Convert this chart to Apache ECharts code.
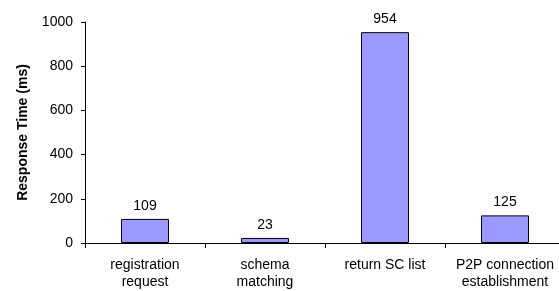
<!DOCTYPE html>
<html><head><meta charset="utf-8">
<script src="https://cdn.jsdelivr.net/npm/echarts@6/dist/echarts.min.js"></script>
<style>html,body{margin:0;padding:0;background:#fff;overflow:hidden}#c{width:566px;height:291px}</style>
</head><body><div id="c"></div>
<script>
const categories = ['registration\nrequest', 'schema\nmatching', 'return SC list', 'P2P connection\nestablishment'];
const values = [109, 23, 954, 125];
const yTicks = [0, 200, 400, 600, 800, 1000];
const yName = 'Response Time (ms)';

const font = 'Liberation Sans, Arial';
const chart = echarts.init(document.getElementById('c'));
chart.setOption({
  animation: false,
  grid: {left: 85, right: 1, top: 22, bottom: 47, containLabel: false},
  xAxis: {
    type: 'category', data: categories,
    axisLine: {lineStyle: {color: '#000', width: 1}},
    axisTick: {show: true, length: 5, lineStyle: {color: '#000'}},
    axisLabel: {color: '#000', fontFamily: font, fontSize: 14, margin: 14, lineHeight: 17, interval: 0},
    splitLine: {show: false}
  },
  yAxis: {
    type: 'value', min: yTicks[0], max: yTicks[yTicks.length - 1], interval: 200,
    name: yName, nameLocation: 'middle', nameGap: 55, nameRotate: 90,
    nameTextStyle: {color: '#000', fontFamily: font, fontSize: 14, fontWeight: 'bold'},
    axisLine: {show: true, lineStyle: {color: '#000', width: 1}},
    axisTick: {show: true, length: 4, lineStyle: {color: '#000'}},
    axisLabel: {color: '#000', fontFamily: font, fontSize: 14, margin: 12, formatter: v => String(v)},
    splitLine: {show: false}
  },
  series: [{
    type: 'bar', data: values, barWidth: 48,
    itemStyle: {color: '#9999FF', borderColor: '#000', borderWidth: 1},
    label: {show: true, position: 'top', distance: 6, color: '#000', fontFamily: font, fontSize: 14}
  }]
});
</script></body></html>
